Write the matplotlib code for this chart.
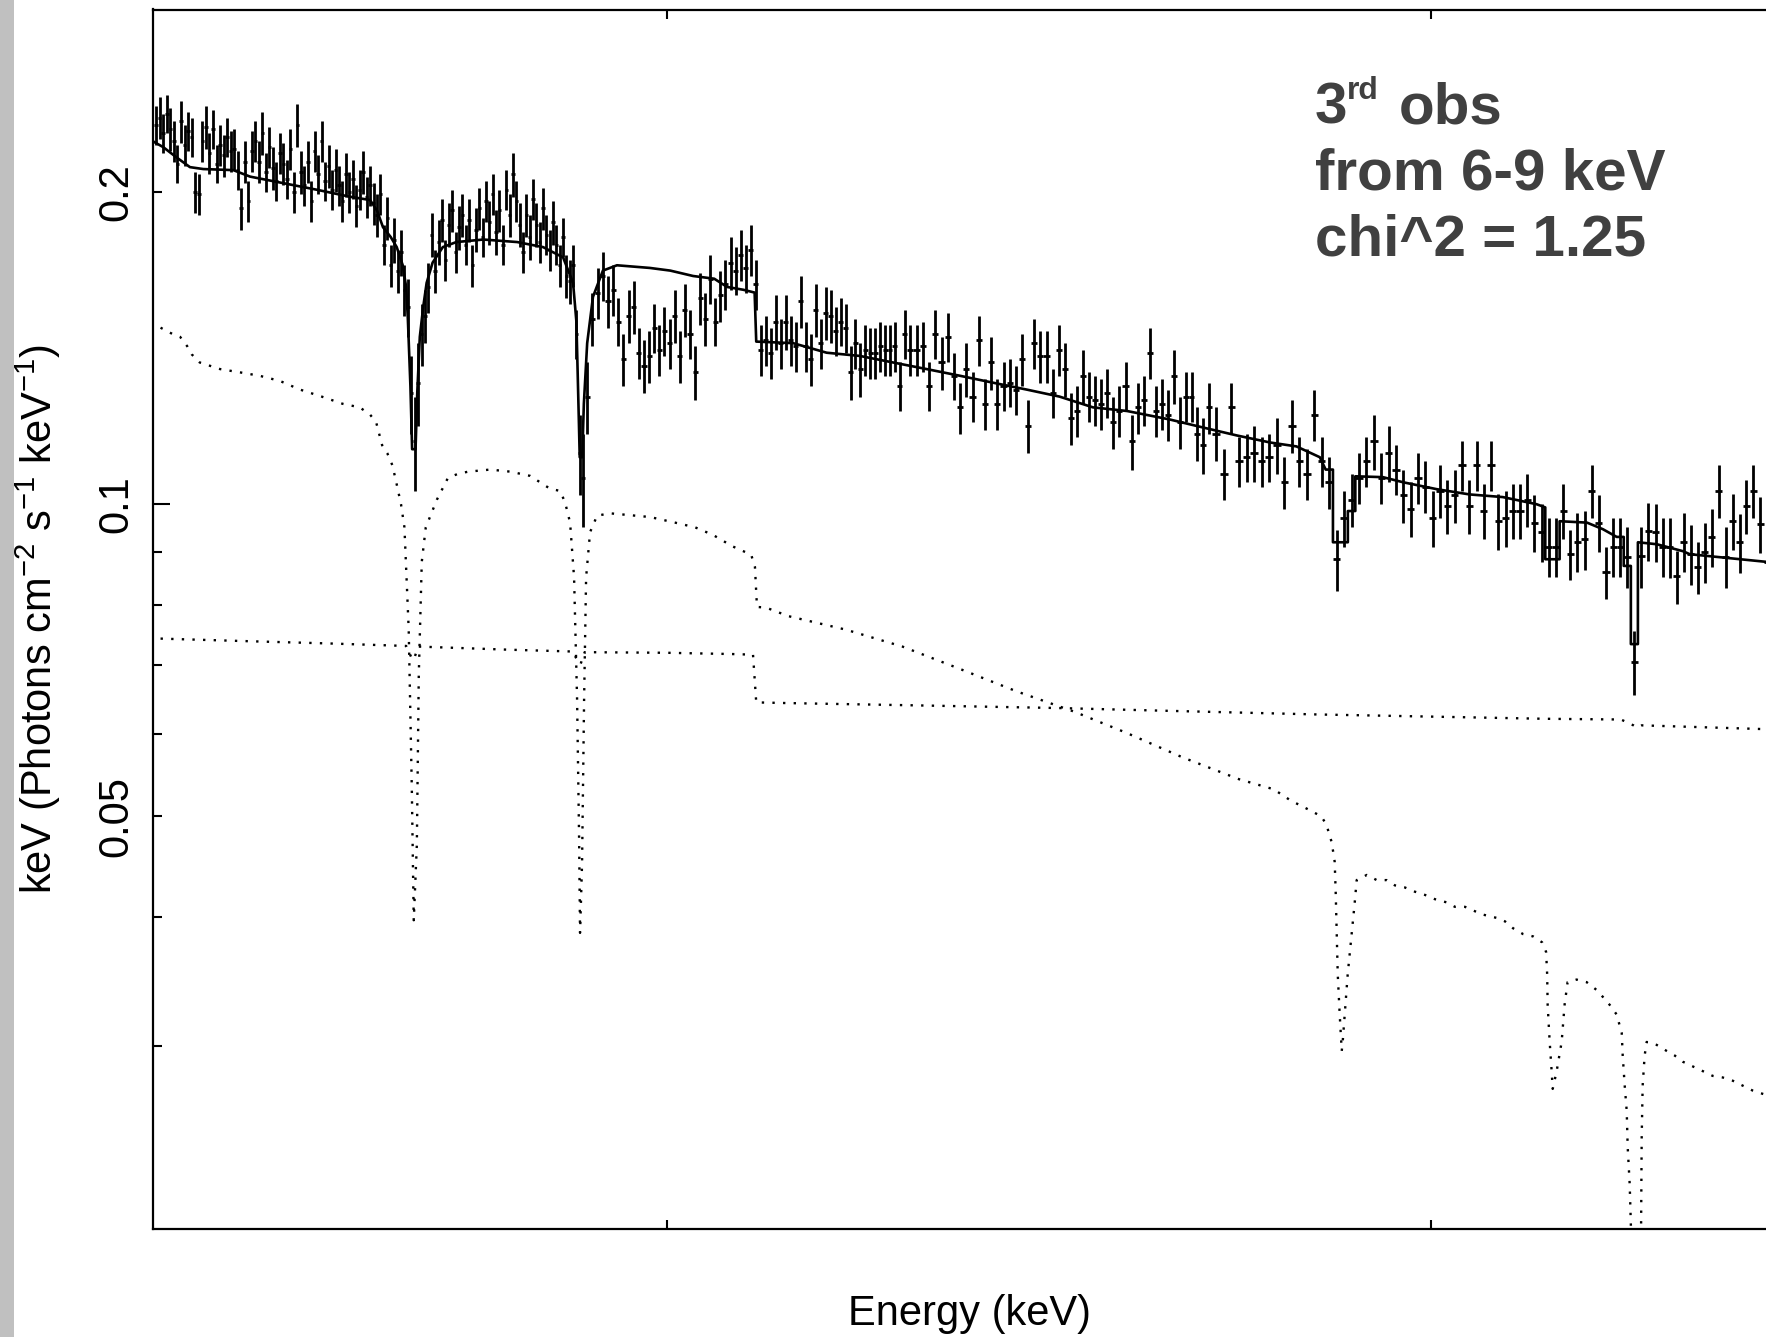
import matplotlib.pyplot as plt
import numpy as np
from matplotlib.patches import Rectangle
from matplotlib.ticker import FixedLocator, FixedFormatter, NullLocator, NullFormatter

W, H = 1766, 1337

# Channel grouping of the spectrum: (low edge, high edge, number of bins) in keV
channel_groups = [(6.400, 6.900, 125), (6.900, 7.300, 64), (7.300, 7.700, 50), (7.700, 8.520, 80)]

# Unfolded data, E F(E) in units of 1e-3 (one list per channel group)
flux_a = [232, 236, 228, 238, 230, 224, 213, 234, 222, 229,
          226, 200, 199, 224, 231, 218, 230, 213, 222, 217,
          226, 219, 220, 210, 193, 214, 196, 219, 224, 214,
          228, 209, 221, 211, 205, 218, 213, 206, 220, 200,
          232, 209, 203, 214, 196, 219, 208, 224, 205, 212,
          201, 210, 203, 196, 208, 200, 206, 194, 201, 209,
          198, 203, 195, 190, 199, 178, 189, 170, 180, 168,
          175, 161, 155, 128, 115, 131, 146, 152, 162, 182,
          168, 179, 188, 172, 186, 192, 175, 185, 190, 178,
          188, 170, 184, 193, 181, 196, 187, 199, 183, 192,
          178, 201, 190, 208, 196, 186, 175, 190, 181, 197,
          186, 179, 193, 182, 176, 187, 178, 170, 181, 166,
          164, 170, 146, 112, 106]
flux_b = [127, 151, 160, 166, 157, 161, 150, 138, 152, 155,
          140, 136, 139, 148, 141, 147, 143, 152, 139, 154,
          146, 134, 158, 151, 165, 150, 159, 163, 171, 168,
          174, 169, 176, 163, 141, 144, 140, 150, 143, 150,
          144, 142, 157, 142, 138, 154, 143, 153, 152, 147,
          150, 148, 134, 143, 135, 141, 140, 140, 142, 141,
          141, 142, 130, 146]
flux_c1 = [141, 141, 142, 130, 146, 137, 145, 133, 124, 135,
           127, 144, 125, 137, 125, 130, 131, 129, 138, 119,
           143, 139, 139, 128, 141, 135, 121, 123, 133, 127,
           126, 125, 128, 120, 123, 130, 115, 124, 126, 140,
           123, 125, 122, 133, 120, 127, 127, 117, 114, 124]
flux_c2 = [117, 107, 124, 110, 111, 112, 110, 111, 114, 105,
           119, 110, 107, 122, 110, 105, 88.5, 97, 101, 106,
           110, 115, 106, 112, 108, 102, 99, 106, 104, 97,
           103, 99.6, 102, 109, 99.6, 109, 98.5, 109, 96.3, 97,
           98.5, 98.5, 101, 96, 94, 91, 91, 98.5, 89.5, 92,
           92.5, 103, 96, 86, 91, 91, 89, 70.5, 89.1, 94.2,
           94, 91, 90.9, 85.2, 92, 89.5, 87, 89.9, 93, 103,
           89, 96.3, 91.9, 99.6, 103, 95.7, 88, 92, 90, 91]

# 1-sigma errors, same units
err_a = [10, 11, 10, 10, 11, 10, 9, 11, 10, 10,
         10, 9, 9, 10, 11, 10, 10, 9, 10, 10,
         10, 10, 10, 9, 9, 10, 9, 10, 10, 10,
         11, 9, 10, 10, 9, 10, 10, 9, 10, 9,
         11, 10, 9, 10, 9, 10, 9, 10, 9, 10,
         9, 10, 9, 9, 10, 9, 9, 9, 9, 10,
         9, 9, 9, 9, 9, 8, 9, 8, 9, 8,
         9, 9, 10, 11, 12, 12, 10, 9, 9, 9,
         8, 9, 9, 8, 9, 9, 8, 9, 9, 8,
         9, 8, 9, 9, 8, 9, 9, 9, 9, 9,
         8, 9, 9, 10, 9, 9, 8, 9, 9, 9,
         9, 8, 9, 8, 8, 9, 8, 8, 8, 8,
         8, 8, 8, 10, 11]
err_b = [10, 9, 9, 9, 9, 9, 8, 8, 9, 9,
         8, 8, 8, 8, 8, 8, 8, 9, 8, 9,
         8, 8, 9, 9, 9, 8, 9, 9, 10, 9,
         10, 9, 10, 9, 8, 8, 8, 9, 8, 9,
         8, 8, 9, 8, 8, 9, 8, 9, 9, 8,
         8, 8, 8, 8, 8, 8, 8, 8, 8, 8,
         8, 8, 7, 8]
err_c1 = [8, 8, 8, 7, 8, 8, 8, 7, 7, 8,
          7, 8, 7, 8, 7, 7, 7, 7, 8, 7,
          8, 8, 8, 7, 8, 8, 7, 7, 8, 7,
          7, 7, 7, 7, 7, 7, 7, 7, 7, 8,
          7, 7, 7, 8, 7, 7, 7, 7, 7, 7]
err_c2 = [7, 6, 7, 6, 6, 7, 6, 6, 7, 6,
          7, 6, 6, 7, 6, 6, 6, 6, 6, 6,
          6, 7, 6, 7, 6, 6, 6, 6, 6, 6,
          6, 6, 6, 6, 6, 6, 6, 6, 6, 6,
          6, 6, 6, 6, 6, 6, 6, 6, 5, 6,
          6, 6, 6, 5, 6, 6, 6, 5, 6, 6,
          6, 6, 6, 5, 6, 6, 5, 6, 6, 6,
          6, 6, 6, 6, 6, 6, 6, 6, 6, 6]

# Folded model (solid)
model_e = [6.398, 6.410, 6.425, 6.440, 6.455, 6.489, 6.508, 6.546, 6.585, 6.622,
           6.646, 6.654, 6.661, 6.670, 6.677, 6.684, 6.688, 6.690, 6.693, 6.695,
           6.699, 6.701, 6.704, 6.708, 6.712, 6.719, 6.731, 6.747, 6.779, 6.819,
           6.850, 6.874, 6.886, 6.890, 6.893, 6.894, 6.897, 6.899, 6.903, 6.910,
           6.922, 6.939, 6.979, 7.004, 7.032, 7.058, 7.074, 7.094, 7.108, 7.110,
           7.156, 7.198, 7.240, 7.282, 7.325, 7.368, 7.410, 7.454, 7.497, 7.541,
           7.586, 7.643, 7.687, 7.733, 7.778, 7.814, 7.846, 7.854, 7.864, 7.864,
           7.8845, 7.8845, 7.8948, 7.8948, 7.933, 7.961, 8.008, 8.054, 8.101, 8.149,
           8.1613, 8.1613, 8.1818, 8.1818, 8.221, 8.244, 8.2638, 8.274, 8.274, 8.2843,
           8.2843, 8.2945, 8.2945, 8.322, 8.360, 8.370, 8.482, 8.512]
model_f = [0.224, 0.221, 0.216, 0.2114, 0.2105, 0.210, 0.207, 0.204, 0.201, 0.198,
           0.1965, 0.192, 0.185, 0.181, 0.177, 0.170, 0.162, 0.151, 0.130, 0.113,
           0.113, 0.128, 0.145, 0.155, 0.1635, 0.171, 0.177, 0.179, 0.180, 0.179,
           0.177, 0.173, 0.1635, 0.150, 0.120, 0.111, 0.111, 0.125, 0.143, 0.1585,
           0.168, 0.170, 0.169, 0.168, 0.166, 0.165, 0.162, 0.161, 0.160, 0.1435,
           0.143, 0.140, 0.139, 0.137, 0.135, 0.133, 0.131, 0.129, 0.127, 0.124,
           0.123, 0.1207, 0.1186, 0.1165, 0.1147, 0.1137, 0.111, 0.108, 0.108, 0.0919,
           0.0919, 0.0985, 0.0985, 0.1064, 0.1062, 0.105, 0.1034, 0.1022, 0.1016, 0.100,
           0.0993, 0.0885, 0.0885, 0.0963, 0.096, 0.0946, 0.093, 0.093, 0.0872, 0.0872,
           0.0733, 0.0733, 0.0919, 0.0915, 0.0901, 0.0895, 0.088, 0.0875]

# Continuum component (dotted)
comp1_e = [6.407, 6.500, 6.600, 6.688, 6.694, 6.697, 6.702, 6.808, 6.886, 6.892,
           6.895, 6.900, 7.000, 7.080, 7.106, 7.110, 7.150, 7.300, 7.495, 7.643,
           7.842, 8.000, 8.160, 8.270, 8.288, 8.293, 8.300, 8.370, 8.512]
comp1_f = [0.0742, 0.0738, 0.0734, 0.0730, 0.0712, 0.0708, 0.0729, 0.0724, 0.0721, 0.0704,
           0.0701, 0.0720, 0.0719, 0.0717, 0.0716, 0.0644, 0.0643, 0.0640, 0.0636, 0.0632,
           0.0627, 0.0624, 0.0621, 0.0620, 0.0612, 0.0609, 0.0612, 0.0610, 0.0606]

# Absorbed component (dotted)
comp2_e = [6.407, 6.420, 6.429, 6.437, 6.442, 6.451, 6.474, 6.497, 6.519, 6.542,
           6.565, 6.590, 6.614, 6.634, 6.646, 6.653, 6.660, 6.666, 6.672, 6.677,
           6.682, 6.686, 6.691, 6.6946, 6.6969, 6.7005, 6.7028, 6.7063, 6.711, 6.724,
           6.737, 6.749, 6.761, 6.787, 6.811, 6.8225, 6.8345, 6.8464, 6.8584, 6.8704,
           6.8764, 6.8824, 6.8872, 6.8908, 6.8932, 6.8944, 6.8968, 6.8993, 6.9017, 6.9065,
           6.915, 6.9307, 6.9549, 6.9792, 7.0098, 7.0344, 7.0566, 7.0802, 7.1037, 7.1084,
           7.1109, 7.122, 7.150, 7.222, 7.294, 7.367, 7.441, 7.516, 7.585, 7.660,
           7.736, 7.783, 7.806, 7.832, 7.848, 7.855, 7.8623, 7.8664, 7.8678, 7.8692,
           7.8706, 7.8733, 7.8761, 7.8774, 7.8843, 7.8898, 7.8940, 7.8967, 7.9106, 7.9245,
           7.9384, 7.9495, 7.9634, 7.9774, 7.9914, 8.0055, 8.0223, 8.0335, 8.0476, 8.0617,
           8.0730, 8.0928, 8.1041, 8.1155, 8.1297, 8.1440, 8.1568, 8.1625, 8.1640, 8.1647,
           8.1676, 8.1704, 8.1719, 8.1776, 8.1847, 8.1889, 8.1932, 8.2061, 8.2206, 8.2350,
           8.2436, 8.2537, 8.2638, 8.2711, 8.2725, 8.2754, 8.2783, 8.2797, 8.2826, 8.2870,
           8.2927, 8.2985, 8.3000, 8.3014, 8.3043, 8.3072, 8.3218, 8.3363, 8.3480, 8.3597,
           8.3743, 8.3890, 8.4036, 8.4184, 8.4331, 8.4478, 8.4625, 8.4775, 8.512]
comp2_f = [0.148, 0.146, 0.145, 0.142, 0.1395, 0.137, 0.135, 0.134, 0.133, 0.1315,
           0.129, 0.127, 0.125, 0.124, 0.122, 0.120, 0.114, 0.112, 0.109, 0.1045,
           0.100, 0.095, 0.0757, 0.0534, 0.0397, 0.0469, 0.0685, 0.088, 0.095, 0.101,
           0.106, 0.107, 0.1075, 0.108, 0.1075, 0.107, 0.1065, 0.105, 0.1035, 0.103,
           0.1004, 0.096, 0.085, 0.065, 0.048, 0.0386, 0.045, 0.065, 0.085, 0.094,
           0.0975, 0.098, 0.0976, 0.0972, 0.096, 0.095, 0.0934, 0.0911, 0.0894, 0.087,
           0.0796, 0.0795, 0.0780, 0.0757, 0.0729, 0.0694, 0.0660, 0.0631, 0.0602, 0.0570,
           0.0543, 0.0531, 0.0518, 0.0507, 0.0500, 0.0491, 0.0472, 0.0452, 0.0422, 0.0385,
           0.0352, 0.0322, 0.0297, 0.0303, 0.0352, 0.0385, 0.0413, 0.0434, 0.0439, 0.0434,
           0.0434, 0.0429, 0.0427, 0.0423, 0.0420, 0.0416, 0.0413, 0.0409, 0.0409, 0.0405,
           0.0402, 0.0399, 0.0396, 0.0390, 0.0385, 0.0383, 0.0378, 0.0370, 0.0352, 0.0329,
           0.0303, 0.0284, 0.0273, 0.0284, 0.0303, 0.0329, 0.0346, 0.0348, 0.0346, 0.0340,
           0.0335, 0.0329, 0.0322, 0.0309, 0.0294, 0.0275, 0.0260, 0.0240, 0.0221, 0.0175,
           0.0160, 0.0175, 0.0245, 0.0275, 0.0294, 0.0303, 0.0301, 0.0297, 0.0294, 0.0290,
           0.0287, 0.0284, 0.0281, 0.0280, 0.0278, 0.0275, 0.0272, 0.0270, 0.0266]

# Bin centres and half widths from the channel grouping
edges = [np.linspace(lo, hi, n + 1) for lo, hi, n in channel_groups]
energy = np.concatenate([(e[:-1] + e[1:]) / 2 for e in edges])
half_width = np.concatenate([np.diff(e) / 2 for e in edges])
flux = np.array(flux_a + flux_b + flux_c1 + flux_c2) / 1000.0
err = np.array(err_a + err_b + err_c1 + err_c2) / 1000.0

plt.rcParams['font.family'] = ['Liberation Sans', 'DejaVu Sans']
plt.rcParams['mathtext.fontset'] = 'custom'
plt.rcParams['mathtext.rm'] = 'Liberation Sans'
plt.rcParams['mathtext.it'] = 'Liberation Sans:italic'
plt.rcParams['mathtext.bf'] = 'Liberation Sans:bold'

fig = plt.figure(figsize=(W / 100, H / 100), dpi=100)

# grey strip down the left edge
fig.patches.append(Rectangle((0, 0), 14 / W, 1, transform=fig.transFigure,
                             facecolor='#c0c0c0', edgecolor='none'))

# plot frame runs a little past the right edge of the canvas
ax = fig.add_axes([152.5 / W, (H - 1229) / H, (1786 - 152.5) / W, (1229 - 9.5) / H])

ax.errorbar(energy, flux, yerr=err, xerr=half_width, fmt='none',
            ecolor='black', elinewidth=2.0, capsize=0)
ax.plot(model_e, model_f, color='black', lw=1.9)
dots = (0, (1, 3.5))
ax.plot(comp1_e, comp1_f, color='black', lw=1.7, linestyle=dots)
ax.plot(comp2_e, comp2_f, color='black', lw=1.7, linestyle=dots)

ax.set_xscale('log')
ax.set_yscale('log')
ax.set_xlim(6.398, 8.512)
ax.set_ylim(0.02, 0.3)

ax.xaxis.set_major_locator(FixedLocator([7, 8]))
ax.xaxis.set_major_formatter(NullFormatter())
ax.xaxis.set_minor_locator(NullLocator())

ax.yaxis.set_major_locator(FixedLocator([0.1]))
ax.yaxis.set_major_formatter(FixedFormatter(['0.1']))
ax.yaxis.set_minor_locator(FixedLocator([0.03, 0.04, 0.05, 0.06, 0.07, 0.08, 0.09, 0.2]))
ax.yaxis.set_minor_formatter(FixedFormatter(['', '', '0.05', '', '', '', '', '0.2']))

ax.tick_params(axis='both', which='both', direction='in', top=True, right=True,
               width=1.5, color='black')
ax.tick_params(axis='x', which='major', length=6.5)
ax.tick_params(axis='y', which='major', length=12)
ax.tick_params(axis='y', which='minor', length=6.5)
ax.tick_params(axis='y', which='both', labelsize=30, pad=18.4)
for lab in ax.get_yticklabels(which='both'):
    lab.set(rotation=90, rotation_mode='anchor', ha='center', va='baseline')

for s in ax.spines.values():
    s.set_linewidth(1.6)

# axis titles
fig.text(51.7 / W, 1 - 618.5 / H, 'keV (Photons cm$^{-2}$ s$^{-1}$ keV$^{-1}$)',
         rotation=90, rotation_mode='anchor', ha='center', va='baseline', fontsize=30)
fig.text(969 / W, (H - 1325) / H, 'Energy (keV)', ha='center', va='baseline', fontsize=30)

# fit note
note = dict(color='#404040', fontweight='bold', ha='left', va='baseline')
fig.text(1315 / W, (H - 123) / H, '3', fontsize=42, **note)
fig.text(1347 / W, (H - 99) / H, 'rd', fontsize=23, **note)
fig.text(1399 / W, (H - 123) / H, 'obs', fontsize=42, **note)
fig.text(1315 / W, (H - 190) / H, 'from 6-9 keV', fontsize=42, **note)
fig.text(1315 / W, (H - 255) / H, 'chi^2 = 1.25', fontsize=42, **note)

fig.savefig('out.png', dpi=100)
